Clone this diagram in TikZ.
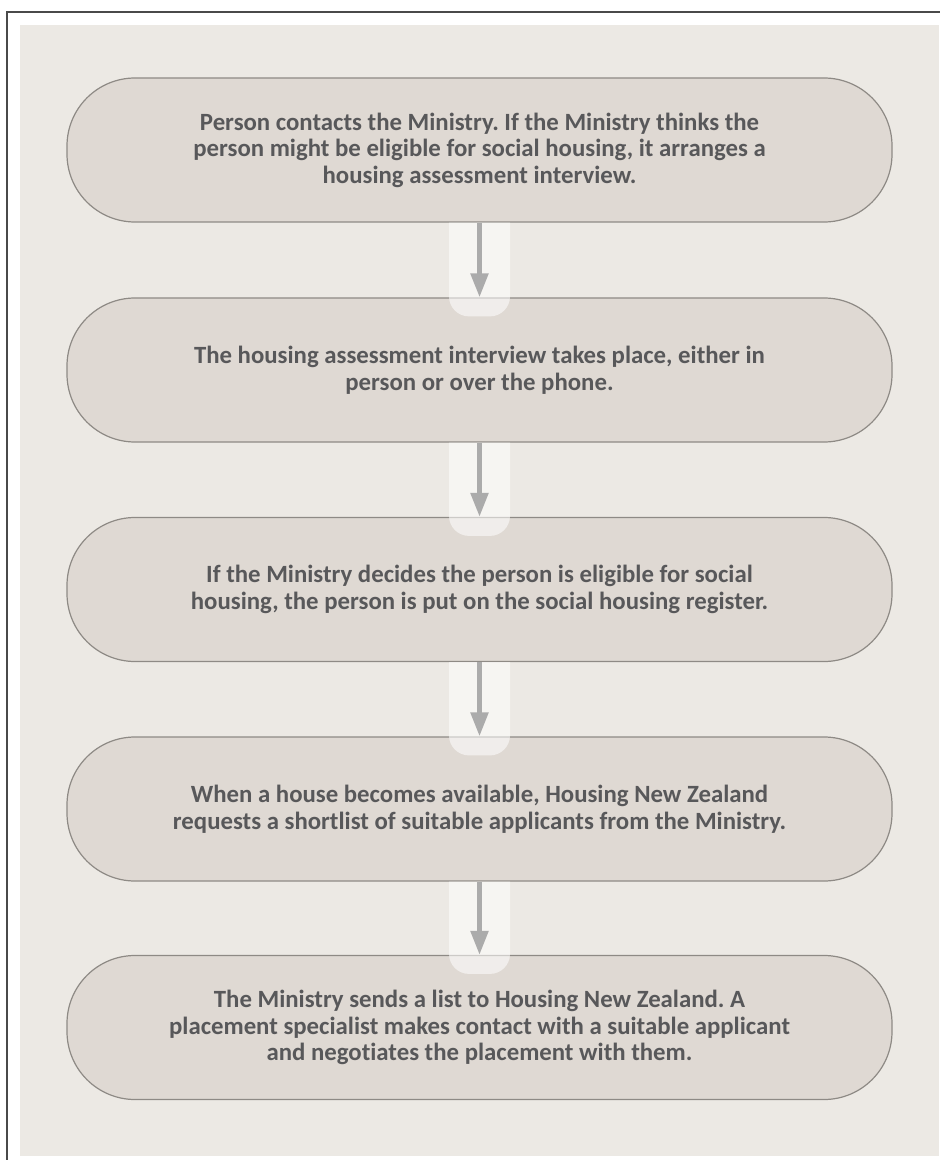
\documentclass[tikz,border=0pt]{standalone}
\usepackage{fontspec}
\setmainfont[Ligatures=NoCommon]{Carlito}
\frenchspacing
\usetikzlibrary{arrows.meta}
\definecolor{pagebg}{HTML}{ECE9E4}
\definecolor{boxfill}{HTML}{DFD9D3}
\definecolor{boxline}{HTML}{8E8A85}
\definecolor{boxtext}{HTML}{58585A}
\definecolor{arrowgray}{HTML}{ABABAB}
\definecolor{frameline}{HTML}{4A4A4A}

\begin{document}
\begin{tikzpicture}[x=0.5pt,y=-0.5pt,
	stepbox/.style={draw=boxline,line width=0.6pt,fill=boxfill,rounded corners=34pt,
		minimum width=412.5pt,minimum height=72pt,inner sep=0pt,align=center,
		text=boxtext,font=\fontsize{12.4}{13.25}\selectfont\bfseries},
	tab/.style={fill=white,fill opacity=0.55,rounded corners=10pt},
	flow/.style={draw=arrowgray,line width=2.5pt,-{Triangle[length=12pt,width=8.5pt]},shorten >=0pt}]
	\useasboundingbox (0,0) rectangle (940,1160);
	\fill[pagebg] (20,25) rectangle (939,1156);
	\draw[frameline,line width=0.7pt] (7,1160)--(7,12)--(940,12);
	\node[stepbox] (contact) at (479.5,150) {Person contacts the Ministry. If the Ministry thinks the\\person might be eligible for social housing, it arranges a\\housing assessment interview.};
	\node[stepbox] (interview) at (479.5,370) {The housing assessment interview takes place, either in\\person or over the phone.};
	\node[stepbox] (register) at (479.5,589.5) {If the Ministry decides the person is eligible for social\\housing, the person is put on the social housing register.};
	\node[stepbox] (shortlist) at (479.5,809) {When a house becomes available, Housing New Zealand\\requests a shortlist of suitable applicants from the Ministry.};
	\node[stepbox] (placement) at (479.5,1027.5) {The Ministry sends a list to Housing New Zealand. A\\placement specialist makes contact with a suitable applicant\\and negotiates the placement with them.};
	\foreach \a/\b in {contact/interview,interview/register,register/shortlist,shortlist/placement}{
		\fill[tab] ([xshift=-15.25pt]\a.south) [sharp corners] -- ([xshift=15.25pt]\a.south)
			[rounded corners=10pt] -- ([xshift=15.25pt,yshift=-9.5pt]\b.north)
			-- ([xshift=-15.25pt,yshift=-9.5pt]\b.north) [sharp corners] -- cycle;
		\draw[flow] (\a.south) -- (\b.north);
	}
\end{tikzpicture}
\end{document}
